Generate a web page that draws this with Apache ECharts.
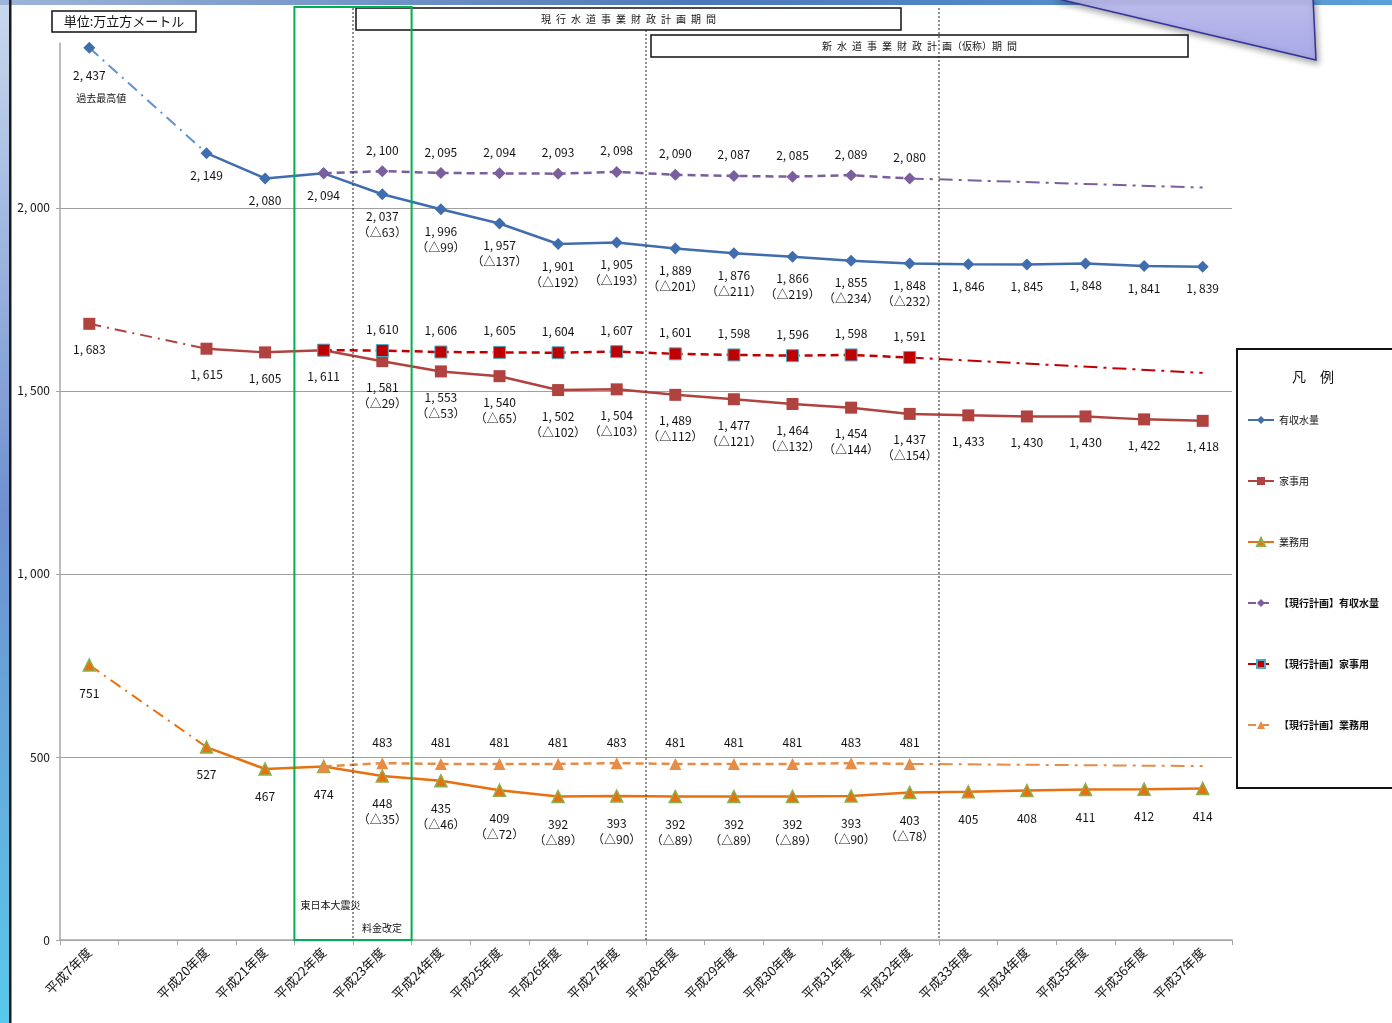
<!DOCTYPE html>
<html>
<head>
<meta charset="utf-8">
<script src="https://cdn.jsdelivr.net/npm/echarts@6/dist/echarts.min.js"></script>
<style>
  html, body { margin: 0; padding: 0; background: #fff; }
  #chart { width: 1392px; height: 1023px; }
</style>
</head>
<body>
<div id="chart"></div>
<script>
const FONT = '"Noto Sans CJK JP", "Noto Sans", sans-serif'

// categories (index 1 is an empty gap between 平成7 and 平成20)
const years = ['平成7年度', '', '平成20年度', '平成21年度', '平成22年度', '平成23年度', '平成24年度',
  '平成25年度', '平成26年度', '平成27年度', '平成28年度', '平成29年度', '平成30年度', '平成31年度',
  '平成32年度', '平成33年度', '平成34年度', '平成35年度', '平成36年度', '平成37年度']

// actuals / forecast
const yushu   = [null, null, 2149, 2080, 2094, 2037, 1996, 1957, 1901, 1905, 1889, 1876, 1866, 1855, 1848, 1846, 1845, 1848, 1841, 1839]
const kajiyo  = [null, null, 1615, 1605, 1611, 1581, 1553, 1540, 1502, 1504, 1489, 1477, 1464, 1454, 1437, 1433, 1430, 1430, 1422, 1418]
const gyomuyo = [null, null, 527, 467, 474, 448, 435, 409, 392, 393, 392, 392, 392, 393, 403, 405, 408, 411, 412, 414]

// 平成7 peak joined to 平成20 by a dash-dot line
const yushuPast   = [2437, null, 2149]
const kajiyoPast  = [1683, null, 1615]
const gyomuyoPast = [751, null, 527]

// current plan (平成22-32) and its extension to 平成37
const planYushu   = [null, null, null, null, 2094, 2100, 2095, 2094, 2093, 2098, 2090, 2087, 2085, 2089, 2080]
const planKajiyo  = [null, null, null, null, 1611, 1610, 1606, 1605, 1604, 1607, 1601, 1598, 1596, 1598, 1591]
const planGyomuyo = [null, null, null, null, 474, 483, 481, 481, 481, 483, 481, 481, 481, 483, 481]
const extYushu    = [null, null, null, null, null, null, null, null, null, null, null, null, null, null, 2080, null, null, null, null, 2055]
const extKajiyo   = [null, null, null, null, null, null, null, null, null, null, null, null, null, null, 1591, null, null, null, null, 1549]
const extGyomuyo  = [null, null, null, null, null, null, null, null, null, null, null, null, null, null, 481, null, null, null, null, 475]

// shortfall vs plan (△)
const dYushu   = [null, null, null, null, null, 63, 99, 137, 192, 193, 201, 211, 219, 234, 232]
const dKajiyo  = [null, null, null, null, null, 29, 53, 65, 102, 103, 112, 121, 132, 144, 154]
const dGyomuyo = [null, null, null, null, null, 35, 46, 72, 89, 90, 89, 89, 89, 90, 78]

const yTicks = [0, 500, 1000, 1500, 2000]

const C_BLUE = '#3F6DAE', C_BLUE_L = '#5B93D3'
const C_BROWN = '#B0423F'
const C_ORANGE = '#E8700E', C_GREEN = '#8CB050'
const C_PURPLE = '#7A5E9E', C_RED = '#C00000', C_ORANGE_L = '#E78B45'

function numFmt(v) {
  if (v >= 1000) return Math.floor(v / 1000) + ', ' + String(v % 1000).padStart(3, '0')
  return String(v)
}
const toData = arr => years.map((_, i) => (arr[i] == null ? '-' : arr[i]))
const spaced = s => s.split('').join('\u2002')

const baseLabel = { color: '#111', fontSize: 12, fontFamily: FONT, lineHeight: 16 }

function actualSeries(name, vals, deltas, color, symbol, itemStyle, dist) {
  return {
    name, type: 'line', data: toData(vals), z: 3,
    symbol, symbolSize: 12,
    lineStyle: { color, width: 2.5 },
    itemStyle,
    label: {
      show: true, position: 'bottom', distance: dist, ...baseLabel,
      formatter: p => numFmt(p.value) + (deltas[p.dataIndex] != null ? '\n（△' + deltas[p.dataIndex] + '）' : ''),
    },
  }
}

function pastSeries(name, vals, lineColor, symbol, itemStyle, labelText, dist) {
  const data = toData(vals).map((v, i) => {
    if (i !== 0) return { value: v, symbol: 'none' }
    return { value: v, label: { show: true } }
  })
  return {
    name, type: 'line', data, z: 2, connectNulls: true,
    symbol, symbolSize: 12,
    lineStyle: { color: lineColor, width: 2, type: [12, 6, 2, 6] },
    itemStyle,
    label: {
      show: false, position: 'bottom', distance: dist, ...baseLabel,
      formatter: labelText,
      rich: {
        a: { fontSize: 12, fontFamily: FONT, color: '#111', lineHeight: 20 },
        b: { fontSize: 10, fontFamily: FONT, color: '#111', lineHeight: 24, padding: [0, 0, 0, 24] },
      },
    },
  }
}

function planSeries(name, vals, color, symbol, itemStyle) {
  return {
    name, type: 'line', data: toData(vals), z: 4,
    symbol, symbolSize: 12,
    lineStyle: { color, width: 2.5, type: [8, 5] },
    itemStyle,
    label: {
      show: true, position: 'top', distance: 7, ...baseLabel,
      formatter: p => (p.dataIndex === 4 ? '' : numFmt(p.value)),
    },
  }
}

function extSeries(name, vals, color) {
  return {
    name, type: 'line', data: toData(vals), z: 2, connectNulls: true,
    symbol: 'none',
    lineStyle: { color, width: 2, type: [14, 6, 3, 6] },
  }
}

const chart = echarts.init(document.getElementById('chart'))

const legendNames = ['有収水量', '家事用', '業務用', '【現行計画】有収水量', '【現行計画】家事用', '【現行計画】業務用']

chart.setOption({
  backgroundColor: '#fff',
  animation: false,
  textStyle: { fontFamily: FONT },
  grid: { left: 60, right: 160, top: 43, bottom: 83, containLabel: false },
  legend: {
    data: legendNames.map((n, i) => ({
      name: n,
      textStyle: { fontWeight: i >= 3 ? 'bold' : 'normal' },
    })),
    orient: 'vertical', left: 1247, top: 415, padding: 0,
    itemWidth: 26, itemHeight: 10, itemGap: 51,
    textStyle: { fontSize: 10, color: '#111', fontFamily: FONT },
    selectedMode: false,
  },
  xAxis: {
    type: 'category', data: years, boundaryGap: true,
    axisLine: { lineStyle: { color: '#A6A6A6', width: 1.5 } },
    axisTick: { show: true, length: 5, lineStyle: { color: '#A6A6A6' } },
    axisLabel: { interval: 0, rotate: 45, fontSize: 13, color: '#111', fontFamily: FONT, margin: 10 },
    splitLine: { show: false },
  },
  yAxis: {
    type: 'value', min: 0, max: 2450, interval: 500,
    axisLine: { show: true, lineStyle: { color: '#A6A6A6', width: 1.5 } },
    axisTick: { show: true, length: 4, lineStyle: { color: '#A6A6A6' } },
    axisLabel: {
      color: '#111', fontSize: 12, fontFamily: FONT, margin: 10,
      showMaxLabel: false,
      formatter: v => (yTicks.includes(v) ? numFmt(v) : ''),
    },
    splitLine: { show: true, showMaxLine: false, lineStyle: { color: '#A0A0A0', width: 1 } },
  },
  series: [
    pastSeries('有収水量(過去)', yushuPast, C_BLUE_L, 'diamond', { color: C_BLUE },
      '{a|2, 437}\n{b|過去最高値}', 12),
    pastSeries('家事用(過去)', kajiyoPast, C_BROWN, 'rect', { color: C_BROWN }, '1, 683', 12),
    pastSeries('業務用(過去)', gyomuyoPast, C_ORANGE, 'triangle',
      { color: C_ORANGE, borderColor: C_GREEN, borderWidth: 1.5 }, '751', 14),
    actualSeries('有収水量', yushu, dYushu, C_BLUE, 'diamond', { color: C_BLUE }, 8),
    actualSeries('家事用', kajiyo, dKajiyo, C_BROWN, 'rect', { color: C_BROWN }, 12),
    actualSeries('業務用', gyomuyo, dGyomuyo, C_ORANGE, 'triangle',
      { color: C_ORANGE, borderColor: C_GREEN, borderWidth: 1.5 }, 13),
    extSeries('有収水量(延長)', extYushu, C_PURPLE),
    extSeries('家事用(延長)', extKajiyo, C_RED),
    extSeries('業務用(延長)', extGyomuyo, C_ORANGE_L),
    planSeries('【現行計画】有収水量', planYushu, C_PURPLE, 'diamond', { color: C_PURPLE }),
    planSeries('【現行計画】家事用', planKajiyo, C_RED, 'rect',
      { color: C_RED, borderColor: '#4BACC6', borderWidth: 1 }),
    planSeries('【現行計画】業務用', planGyomuyo, C_ORANGE_L, 'triangle', { color: C_ORANGE_L }),
  ],
})

// annotations placed from the axis scales
const px = i => chart.convertToPixel({ xAxisIndex: 0 }, i)
const py = v => chart.convertToPixel({ yAxisIndex: 0 }, v)
const edge = i => (px(i - 1) + px(i)) / 2
const y0 = py(0)

function dotted(id, x, yTop) {
  return {
    id, type: 'line', z: 50,
    shape: { x1: x, y1: yTop, x2: x, y2: y0 },
    style: { stroke: '#222', lineWidth: 1, lineDash: [2, 2] },
  }
}
function box(id, x, y, w, h, text, fontSize) {
  return {
    id, type: 'group', z: 40,
    children: [
      { type: 'rect', shape: { x, y, width: w, height: h }, style: { fill: '#fff', stroke: '#111', lineWidth: 1.5 } },
      {
        type: 'text', x: x + w / 2, y: y + h / 2,
        style: { text, fill: '#111', fontSize, fontFamily: FONT, align: 'center', verticalAlign: 'middle' },
      },
    ],
  }
}

const gx1 = edge(4), gx2 = edge(6)

chart.setOption({
  graphic: [
    {
      id: 'leftStrip', type: 'rect', z: 1,
      shape: { x: 0, y: 0, width: 10, height: 1023 },
      style: {
        fill: new echarts.graphic.LinearGradient(0, 0, 0, 1, [
          { offset: 0, color: '#C9D8EC' }, { offset: 0.5, color: '#6F8FD0' }, { offset: 1, color: '#58C8EC' },
        ]),
      },
    },
    { id: 'leftBorder', type: 'rect', z: 2, shape: { x: 9, y: 0, width: 2.5, height: 1023 }, style: { fill: '#1A1A1A' } },
    {
      id: 'topBand', type: 'rect', z: 1,
      shape: { x: 0, y: 0, width: 1392, height: 5 },
      style: {
        fill: new echarts.graphic.LinearGradient(0, 0, 1, 0, [
          { offset: 0, color: '#9DB4D8' }, { offset: 0.5, color: '#4C78B8' }, { offset: 1, color: '#5BA0D8' },
        ]),
      },
    },
    {
      id: 'callout', type: 'polygon', z: 60,
      shape: { points: [[1054, -2], [1313, -2], [1316, 60]] },
      style: {
        fill: new echarts.graphic.LinearGradient(0, 0, 0, 1, [
          { offset: 0, color: '#BDBDEE' }, { offset: 1, color: '#A8A8E6' },
        ]),
        stroke: '#32329A', lineWidth: 1.5,
        shadowBlur: 6, shadowColor: 'rgba(0,0,0,0.35)', shadowOffsetX: 2, shadowOffsetY: 3,
      },
    },
    box('unitBox', 52, 11, 144, 21, '単位:万立方メートル', 13),
    box('planNow', 356, 8, 545, 22, spaced('現行水道事業財政計画期間'), 10),
    box('planNew', 651, 35, 537, 22, spaced('新水道事業財政計画') + '（仮称）' + spaced('期間'), 10),
    dotted('d1', edge(5), 8),
    dotted('d2', edge(10), 30),
    dotted('d3', edge(15), 8),
    {
      id: 'greenBox', type: 'rect', z: 45,
      shape: { x: gx1, y: 7, width: gx2 - gx1, height: y0 - 7 },
      style: { fill: 'none', stroke: '#00B050', lineWidth: 2 },
    },
    {
      id: 'quake', type: 'text', z: 55, x: gx1 + 6, y: py(95),
      style: { text: '東日本大震災', fill: '#111', fontSize: 10, fontFamily: FONT, verticalAlign: 'middle' },
    },
    {
      id: 'tariff', type: 'text', z: 55, x: edge(5) + 9, y: py(33),
      style: { text: '料金改定', fill: '#111', fontSize: 10, fontFamily: FONT, verticalAlign: 'middle' },
    },
    {
      id: 'legendBox', type: 'rect', z: 0,
      shape: { x: 1237, y: 349, width: 170, height: 439 },
      style: { fill: '#fff', stroke: '#111', lineWidth: 2 },
    },
    {
      id: 'legendTitle', type: 'text', z: 5, x: 1313, y: 377,
      style: { text: '凡　例', fill: '#111', fontSize: 14, fontFamily: FONT, align: 'center', verticalAlign: 'middle' },
    },
  ],
})
</script>
</body>
</html>
